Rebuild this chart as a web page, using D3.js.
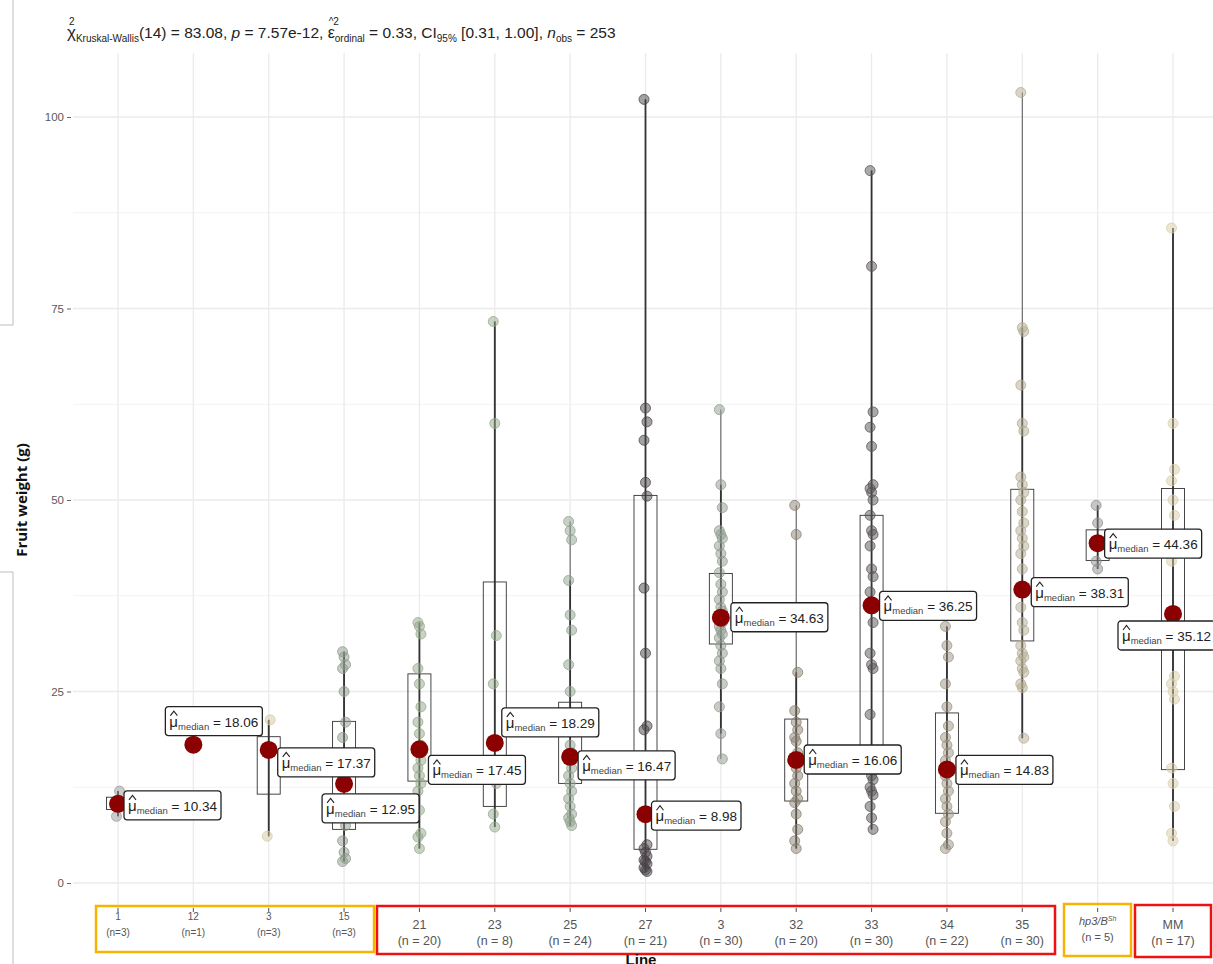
<!DOCTYPE html>
<html><head><meta charset="utf-8">
<script src="https://cdn.jsdelivr.net/npm/d3@7"></script>
<style>body{margin:0;background:#fff}svg{display:block}text{font-family:"Liberation Sans",Arial,sans-serif}</style>
</head><body>
<svg id="chart" width="1213" height="964"></svg>
<script>
// ---------- data ----------
const lineLabels = ["1","12","3","15","21","23","25","27","3","32","33","34","35","hp3/B^Sh","MM"];
const nLabels = ["(n=3)","(n=1)","(n=3)","(n=3)","(n = 20)","(n = 8)","(n = 24)","(n = 21)","(n = 30)","(n = 20)","(n = 30)","(n = 22)","(n = 30)","(n =  5)","(n = 17)"];
const medians = [10.34,18.06,17.37,12.95,17.45,18.29,16.47,8.98,34.63,16.06,36.25,14.83,38.31,44.36,35.12];
const q1 = [9.6,null,11.6,7.0,13.3,10.0,13.0,4.4,31.2,10.7,17.7,9.1,31.6,42.1,14.8];
const q3 = [11.2,null,19.1,21.1,27.3,39.3,23.6,50.6,40.4,21.4,48.0,22.2,51.4,46.1,51.5];
const pts = [
  [8.7,10.34,12.0],
  [18.06],
  [6.1,17.37,21.3],
  [30.2,29.5,28.5,28.0,25.0,21.0,19.0,16.0,12.95,11.0,9.5,7.5,5.5,4.0,3.2,2.8],
  [34.0,33.5,32.5,28.0,26.0,23.0,21.0,19.5,18.0,17.45,17.0,16.0,15.0,14.0,13.0,12.0,9.5,6.5,6.0,4.5],
  [73.3,60.0,32.3,26.0,18.29,13.0,9.0,7.3],
  [47.2,46.0,44.8,39.5,35.0,33.0,28.5,25.0,22.0,20.0,18.0,17.0,16.47,16.0,15.0,14.0,13.0,12.0,11.0,10.0,9.0,8.5,8.0,7.5],
  [102.3,62.0,60.2,57.8,52.3,50.5,38.5,30.0,20.5,20.0,8.98,5.0,4.5,4.0,3.5,3.0,2.8,2.5,2.0,1.7,1.5],
  [61.8,52.0,49.0,46.0,45.5,45.0,44.0,43.0,42.0,40.5,39.0,38.0,37.0,36.0,35.5,35.0,34.63,34.0,33.5,33.0,32.5,32.0,31.0,30.0,29.0,28.0,26.0,23.0,19.5,16.2],
  [49.3,45.5,27.5,22.5,21.0,20.0,19.0,18.5,17.0,16.06,15.0,14.0,13.0,12.0,11.0,10.5,9.0,7.0,5.5,4.5],
  [93.0,80.5,61.5,59.5,57.0,52.0,51.5,51.0,50.0,48.0,46.0,45.5,44.0,41.0,40.0,38.0,36.25,34.0,30.0,28.5,28.0,22.0,14.0,13.5,12.5,12.0,11.5,10.0,8.5,7.0],
  [33.5,31.0,29.5,26.0,23.0,20.5,19.0,18.0,17.0,16.0,15.0,14.83,14.0,13.0,12.0,11.0,10.0,9.0,8.0,6.5,5.0,4.5],
  [103.2,72.5,72.0,65.0,60.0,59.0,53.0,52.0,51.0,50.0,48.5,47.0,46.0,45.0,44.0,43.0,41.0,38.31,36.0,34.0,33.0,31.0,30.0,29.5,29.0,28.0,27.5,26.0,25.5,18.9],
  [49.3,47.0,44.36,42.0,41.0],
  [85.5,60.0,54.0,52.5,50.0,48.0,42.0,35.12,27.0,26.0,25.0,24.0,15.0,13.0,10.0,6.5,5.5]
];
const yTicks = [0,25,50,75,100];
const yMinor = [12.5,37.5,62.5,87.5];

// ---------- style ----------
const ptColors = ["#9a9a9a","#9a9a9a","#d6c8a6","#8d998b","#93a88a","#93a98b","#8fa28d","#4a4448","#8f9b8e","#8a7f70","#585456","#9c9282","#b4ac92","#8e8e8e","#d8cda8"];
// label offsets (label top-left relative to median point)
const labelOff = [[6,-13],[-28,-38],[9,-2],[-22,10],[9,6],[7,-35],[8,-6],[6,-13],[10,-15],[8,-15],[8,-14],[9,-14],[9,-12],[7,-14],[-55,7]];

const svg = d3.select("#chart");
const idx = d3.range(lineLabels.length);
const x = d3.scalePoint().domain(idx).range([118,1173]);
const y = d3.scaleLinear().domain([0,100]).range([883,117]);
const panelTop = 53, panelBot = 910, panelLeft = 73, panelRight = 1218;

// artifact frame lines at far left
svg.append("path").attr("d","M13,0V325H0M0,572H13V964").attr("fill","none").attr("stroke","#bdbdbd").attr("stroke-width",1);

// grid
const g = svg.append("g");
g.selectAll(".ymin").data(yMinor).join("line").attr("x1",panelLeft).attr("x2",panelRight)
  .attr("y1",d=>y(d)).attr("y2",d=>y(d)).attr("stroke","#f2f2f2").attr("stroke-width",1);
g.selectAll(".ymaj").data(yTicks).join("line").attr("x1",panelLeft).attr("x2",panelRight)
  .attr("y1",d=>y(d)).attr("y2",d=>y(d)).attr("stroke","#ebebeb").attr("stroke-width",1.3);
g.selectAll(".xg").data(idx).join("line").attr("x1",d=>x(d)).attr("x2",d=>x(d))
  .attr("y1",panelTop).attr("y2",panelBot).attr("stroke","#ebebeb").attr("stroke-width",1.3);

// y axis
const yAxis = d3.axisLeft(y).tickValues(yTicks).tickSize(4).tickPadding(3);
const ya = svg.append("g").attr("transform","translate(71,0)").call(yAxis);
ya.select(".domain").remove();
ya.selectAll("line").attr("stroke","#666");
ya.selectAll("text").attr("fill","#5a5a5a").attr("font-size",11.5).style("font-family","Liberation Sans");

svg.append("text").attr("transform","translate(27,500) rotate(-90)").attr("text-anchor","middle")
  .attr("font-size",15).attr("font-weight","bold").style("font-family","'Open Sans'").attr("fill","#111").text("Fruit weight (g)");

// marks per group
idx.forEach(i=>{
  const cx = x(i), vals = pts[i];
  const mn = d3.min(vals), mx = d3.max(vals);
  const gg = svg.append("g");
  gg.append("line").attr("x1",cx).attr("x2",cx).attr("y1",y(mn)).attr("y2",y(mx)).attr("stroke","#555").attr("stroke-width",1);
  if(q1[i]!==null){
    const iqr = q3[i]-q1[i];
    const lo = d3.min(vals.filter(v=>v>=q1[i]-1.5*iqr));
    const hi = d3.max(vals.filter(v=>v<=q3[i]+1.5*iqr));
    gg.append("line").attr("x1",cx).attr("x2",cx).attr("y1",y(lo)).attr("y2",y(hi)).attr("stroke","#333").attr("stroke-width",1.8);
    gg.append("rect").attr("x",cx-11.5).attr("width",23).attr("y",y(q3[i])).attr("height",y(q1[i])-y(q3[i]))
      .attr("fill","none").attr("stroke","#333").attr("stroke-width",0.9);
  }
  gg.selectAll("circle.p").data(vals).join("circle").attr("class","p")
    .attr("cx",(d,k)=>cx+((k%3)-1)*1.5).attr("cy",d=>y(d)).attr("r",5)
    .attr("fill",ptColors[i]).attr("fill-opacity",0.5).attr("stroke",ptColors[i]).attr("stroke-opacity",0.75);
});

// median dots & labels
idx.forEach(i=>{
  svg.append("circle").attr("cx",x(i)).attr("cy",y(medians[i])).attr("r",9).attr("fill","#8b0000");
});
idx.forEach(i=>{
  const cx = x(i), cy = y(medians[i]);
  const lx = cx+labelOff[i][0], ly = cy+labelOff[i][1];
  const lg = svg.append("g").attr("transform",`translate(${lx},${ly})`);
  const rect = lg.append("rect").attr("rx",3).attr("height",29).attr("fill","#fff").attr("stroke","#222").attr("stroke-width",1.3);
  const t = lg.append("text").attr("x",4).attr("y",20).attr("fill","#222");
  t.append("tspan").attr("font-size",15).text("μ");
  t.append("tspan").attr("font-size",9.5).attr("dy",3).attr("fill","#444").text("median");
  t.append("tspan").attr("font-size",13.5).attr("dy",-3).text(" = "+medians[i].toFixed(2));
  lg.append("path").attr("d","M5,9 L8.5,4.5 L12,9").attr("fill","none").attr("stroke","#222").attr("stroke-width",1.1);
  const w = t.node().getComputedTextLength();
  rect.attr("width",w+8);
});

// x axis ticks
svg.selectAll(".xt").data(idx).join("line").attr("x1",d=>x(d)).attr("x2",d=>x(d))
  .attr("y1",panelBot-2).attr("y2",panelBot+2).attr("stroke","#555");

// x labels
idx.forEach(i=>{
  const cx = x(i);
  let fs, b1, b2;
  if(i<4){fs=10;b1=920;b2=936;}
  else if(i===13){fs=11;b1=925;b2=941;}
  else {fs=12.5;b1=929;b2=945;}
  const t1 = svg.append("text").attr("x",cx).attr("y",b1).attr("text-anchor","middle").attr("font-size",fs).attr("fill","#555");
  if(i===13){
    t1.attr("font-style","italic");
    t1.append("tspan").text("hp3/B");
    t1.append("tspan").attr("font-size",7).attr("dy",-4).text("Sh");
  } else t1.text(lineLabels[i]);
  svg.append("text").attr("x",cx).attr("y",b2).attr("text-anchor","middle").attr("font-size",fs).attr("fill","#555").text(nLabels[i]);
});

// coloured frames
const frames = [[96,906,374,952,"#f5b400"],[377,906,1055,954,"#ee1111"],[1064,904,1131,956,"#f5b400"],[1135,905,1211,957,"#ee1111"]];
svg.selectAll(".fr").data(frames).join("rect").attr("x",d=>d[0]).attr("y",d=>d[1]).attr("width",d=>d[2]-d[0]).attr("height",d=>d[3]-d[1])
  .attr("fill","none").attr("stroke",d=>d[4]).attr("stroke-width",2.5);

svg.append("text").attr("x",641).attr("y",965).attr("text-anchor","middle").attr("font-size",15).attr("font-weight","bold").attr("fill","#111").text("Line");

// title
const M = 15.5, S = 10;
const segs = [
  {t:"χ",s:17},{t:"Kruskal-Wallis",s:S,dy:4},{t:"(14) = 83.08, ",s:M},{t:"p",s:M,it:1},{t:" = 7.57e-12, ",s:M},
  {t:"ε",s:16},{t:"ordinal",s:S,dy:4},{t:" = 0.33, CI",s:M},{t:"95%",s:S,dy:4},{t:" [0.31, 1.00], ",s:M},
  {t:"n",s:M,it:1},{t:"obs",s:S,dy:4},{t:" = 253",s:M}
];
let tx = 67; const tb = 38; const pos = {};
const tg = svg.append("g");
segs.forEach((s,k)=>{
  const el = tg.append("text").attr("x",tx).attr("y",tb+(s.dy||0)).attr("font-size",s.s).attr("fill","#222").text(s.t)
    .attr("xml:space","preserve").style("white-space","pre");
  if(s.it) el.attr("font-style","italic");
  pos[k]=tx;
  tx += el.node().getComputedTextLength();
});
tg.append("text").attr("x",pos[0]+2).attr("y",tb-13).attr("font-size",10).attr("fill","#222").text("2");
tg.append("text").attr("x",pos[5]+1).attr("y",tb-13).attr("font-size",10).attr("fill","#222").text("^2");
</script>
</body></html>
